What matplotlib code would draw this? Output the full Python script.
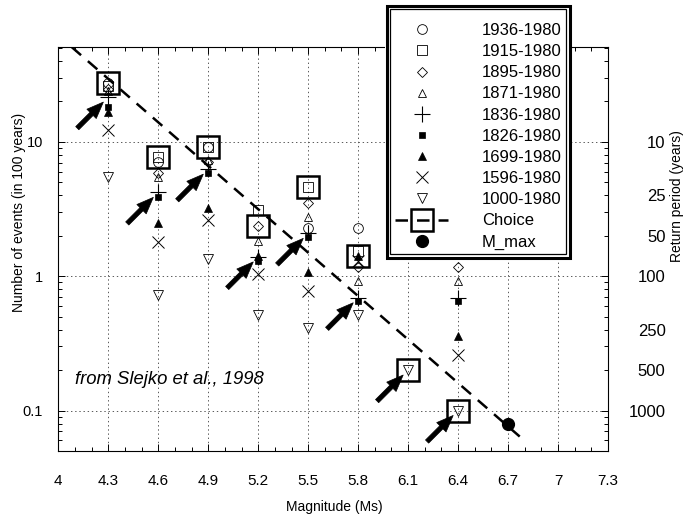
import numpy as np
import matplotlib
matplotlib.use("Agg")
import matplotlib.pyplot as plt
from matplotlib.lines import Line2D
from matplotlib.patches import Rectangle
from matplotlib.ticker import FixedLocator, FixedFormatter, MultipleLocator, NullLocator

plt.rcParams['font.family'] = ['Liberation Sans', 'DejaVu Sans']
plt.rcParams['lines.scale_dashes'] = False

nan = np.nan

# Magnitude classes (Ms)
magnitudes = [4.3, 4.6, 4.9, 5.2, 5.5, 5.8, 6.1, 6.4]

# Number of events per 100 years for each completeness period
rate_1936 = [27.3, 7.1, 9.1, nan, 2.27, 2.27, nan, nan]
rate_1915 = [26.2, 7.7, 9.2, 3.1, 4.6, 1.54, nan, nan]
rate_1895 = [24.7, 5.9, 7.1, 2.35, 3.5, 1.18, nan, 1.18]
rate_1871 = [24.0, 5.5, 7.3, 1.83, 2.75, 0.92, nan, 0.92]
rate_1836 = [21.5, 4.2, 6.25, 1.39, 2.08, 0.69, nan, 0.69]
rate_1826 = [18.2, 3.9, 5.85, 1.30, 1.95, 0.65, nan, 0.65]
rate_1699 = [16.7, 2.5, 3.2, 1.42, 1.07, 1.42, nan, 0.36]
rate_1596 = [12.2, 1.8, 2.6, 1.04, 0.78, 1.30, nan, 0.26]
rate_1000 = [5.5, 0.72, 1.35, 0.51, 0.41, 0.51, 0.20, 0.10]

# Selected rate per magnitude class and the values flagged with arrows
choice_rate = [27.3, 7.7, 9.1, 2.35, 4.6, 1.42, 0.20, 0.10]
arrow_rate = [21.5, 4.2, 6.25, 1.39, 2.08, 0.69, 0.20, 0.10]

# Maximum magnitude and Gutenberg-Richter line end points
mmax_mag = [6.7]
mmax_rate = [0.08]
fit_mag = [4.08, 6.81]
fit_rate = [50.8, 0.058]

# Axis ticks
mag_ticks = [4.0, 4.3, 4.6, 4.9, 5.2, 5.5, 5.8, 6.1, 6.4, 6.7, 7.0, 7.3]
mag_labels = ["4", "4.3", "4.6", "4.9", "5.2", "5.5", "5.8", "6.1", "6.4", "6.7", "7", "7.3"]
rate_ticks = [0.1, 1, 10]
rate_labels = ["0.1", "1", "10"]
period_ticks = [10, 25, 50, 100, 250, 500, 1000]

series = [
    ("1936-1980", rate_1936, dict(marker='o', ms=7, mfc='none', mec='k', mew=0.6)),
    ("1915-1980", rate_1915, dict(marker='s', ms=7, mfc='none', mec='k', mew=0.6)),
    ("1895-1980", rate_1895, dict(marker='D', ms=5, mfc='none', mec='k', mew=0.6)),
    ("1871-1980", rate_1871, dict(marker='^', ms=5.5, mfc='none', mec='k', mew=0.6)),
    ("1836-1980", rate_1836, dict(marker='+', ms=12, mec='k', mew=0.8)),
    ("1826-1980", rate_1826, dict(marker='s', ms=4, mfc='k', mec='k', mew=0.5)),
    ("1699-1980", rate_1699, dict(marker='^', ms=5.5, mfc='k', mec='k', mew=0.5)),
    ("1596-1980", rate_1596, dict(marker='x', ms=9, mec='k', mew=0.7)),
    ("1000-1980", rate_1000, dict(marker='v', ms=7.5, mfc='none', mec='k', mew=0.6)),
]

W, H = 684, 519
fig = plt.figure(figsize=(W / 100, H / 100), dpi=100)
ax = fig.add_axes([58.3 / W, (H - 451) / H, 549.7 / W, 404 / H])

ax.set_xscale('linear')
ax.set_yscale('log')
ax.set_xlim(4.0, 7.3)
ax.set_ylim(0.05, 50.8)

ax.xaxis.set_major_locator(FixedLocator(mag_ticks))
ax.xaxis.set_major_formatter(FixedFormatter(mag_labels))
ax.xaxis.set_minor_locator(MultipleLocator(0.1))
ax.yaxis.set_major_locator(FixedLocator(rate_ticks))
ax.yaxis.set_major_formatter(FixedFormatter(rate_labels))

ax.set_axisbelow(True)
ax.grid(True, which='major', ls=(0, (1, 2)), lw=0.7, color='0.35')

dash = (0, (9, 6.5))
ax.plot(fit_mag, fit_rate, color='k', lw=1.8, ls=dash, zorder=3)

handles = []
for label, vals, st in series:
    ax.plot(magnitudes, vals, ls='none', zorder=4, **st)
    handles.append(Line2D([], [], ls='none', label=label, **st))

choice_style = dict(marker='s', ms=16.5, mfc='none', mec='k', mew=1.8)
ax.plot(magnitudes, choice_rate, ls='none', zorder=5, **choice_style)
handles.append(Line2D([], [], color='k', lw=1.8, ls=dash, label='Choice', **choice_style))

mmax_style = dict(marker='o', ms=8.5, mfc='k', mec='k')
ax.plot(mmax_mag, mmax_rate, ls='none', zorder=5, **mmax_style)
handles.append(Line2D([], [], ls='none', label='M_max', **mmax_style))

for m, r in zip(magnitudes, arrow_rate):
    ax.annotate('', xy=(m, r), xytext=(-31, -31), textcoords='offset pixels',
                arrowprops=dict(arrowstyle='simple,head_length=12,head_width=9.5,tail_width=3.2',
                                mutation_scale=1, fc='k', ec='k', lw=0.5,
                                shrinkA=0, shrinkB=5), zorder=6)

ax.text(0.03, 0.176, "from Slejko et al., 1998", transform=ax.transAxes,
        style='italic', fontsize=13.3, va='center', ha='left')

for sp in ax.spines.values():
    sp.set_linewidth(0.8)

# Right axis: return period in years
ax2 = ax.twinx()
ax2.set_yscale('log')
ax2.set_ylim(ax.get_ylim())
ax2.yaxis.set_major_locator(FixedLocator([100.0 / p for p in period_ticks]))
ax2.yaxis.set_major_formatter(FixedFormatter([str(p) for p in period_ticks]))
ax2.yaxis.set_minor_locator(NullLocator())
ax2.tick_params(axis='y', length=0, pad=41.5, labelsize=12)
for t in ax2.get_yticklabels():
    t.set_horizontalalignment('right')
for sp in ax2.spines.values():
    sp.set_visible(False)

ax.tick_params(which='both', direction='in', top=True, right=True, width=0.7)
ax.tick_params(which='major', length=5)
ax.tick_params(which='minor', length=3)
ax.tick_params(axis='x', which='major', pad=16.5, labelsize=11)
ax.tick_params(axis='y', which='major', pad=11, labelsize=10.5)

fig.text(334 / W, 1 - 507 / H, "Magnitude (Ms)", fontsize=10, ha='center', va='center')
fig.text(19 / W, 1 - 212 / H, "Number of events (in 100 years)", fontsize=10,
         rotation=90, ha='center', va='center')
fig.text(677 / W, 1 - 196 / H, "Return period (years)", fontsize=10,
         rotation=90, ha='center', va='center')


def fig_rect(left, top, right, bottom, **kw):
    """Rectangle given in pixel coordinates measured from the top-left corner."""
    return Rectangle((left / W, 1 - bottom / H), (right - left) / W, (bottom - top) / H,
                     transform=fig.transFigure, **kw)


# Legend box with a double border, drawn above the plot area
fig.add_artist(fig_rect(385, 4, 571, 259, fc='w', ec='none', zorder=10))
fig.add_artist(fig_rect(390, 9, 566, 254, fill=False, ec='k', lw=0.9, zorder=11))
fig.add_artist(fig_rect(386.5, 5.5, 569.5, 257.5, fill=False, ec='k', lw=2.2, zorder=11))

leg = fig.legend(handles=handles, loc='upper left', bbox_to_anchor=(395 / W, 1 - 23 / H),
                 bbox_transform=fig.transFigure, borderaxespad=0, fontsize=12,
                 handlelength=3.2, handletextpad=2.0, borderpad=0, labelspacing=0.37,
                 frameon=False)
leg.set_zorder(12)

fig.savefig("out.png", dpi=100)
